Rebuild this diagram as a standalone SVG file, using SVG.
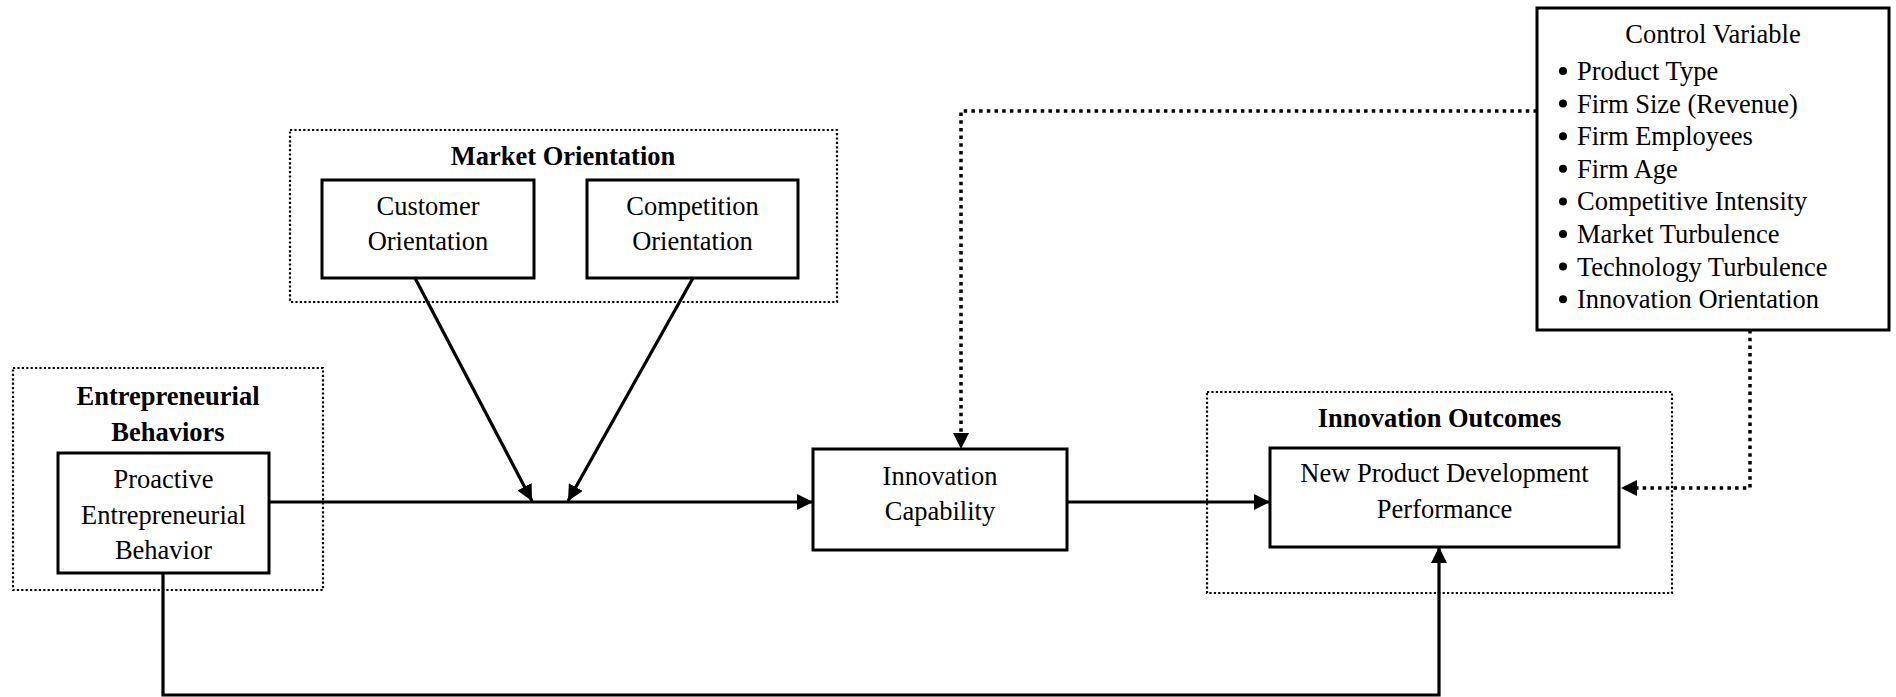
<svg xmlns="http://www.w3.org/2000/svg" width="1896" height="697" viewBox="0 0 1896 697">
<style>
text{font-family:'Liberation Serif','Times New Roman',serif;font-size:26.5px;fill:#000}
.c{text-anchor:middle}
.b{font-weight:bold}
.box{fill:#fff;stroke:#000;stroke-width:3}
.grp{fill:none;stroke:#000;stroke-width:2.2;stroke-dasharray:2.2 2.2}
.ln{fill:none;stroke:#000;stroke-width:3.2}
.dot{fill:none;stroke:#000;stroke-width:3.5;stroke-dasharray:3.5 4.2}
</style>
<defs>
<marker id="ah" viewBox="0 0 16 16" refX="16" refY="8" markerWidth="16" markerHeight="16" markerUnits="userSpaceOnUse" orient="auto">
<path d="M0,0 L16,8 L0,16 Z" fill="#000"/>
</marker>
</defs>
<g id="market-orientation">
<rect class="grp" x="290" y="130" width="547" height="172"/>
<text class="c b" x="563" y="165">Market Orientation</text>
</g>
<g id="customer-orientation">
<rect class="box" x="322" y="180" width="212" height="98"/>
<text class="c" x="428" y="215">Customer</text>
<text class="c" x="428" y="250">Orientation</text>
</g>
<g id="competition-orientation">
<rect class="box" x="587" y="180" width="211" height="98"/>
<text class="c" x="692.5" y="215">Competition</text>
<text class="c" x="692.5" y="250">Orientation</text>
</g>
<g id="entrepreneurial-behaviors">
<rect class="grp" x="13" y="368" width="310" height="222"/>
<text class="c b" x="168" y="405">Entrepreneurial</text>
<text class="c b" x="168" y="441">Behaviors</text>
</g>
<g id="proactive">
<rect class="box" x="58" y="453" width="211" height="120"/>
<text class="c" x="163.5" y="488">Proactive</text>
<text class="c" x="163.5" y="524">Entrepreneurial</text>
<text class="c" x="163.5" y="559">Behavior</text>
</g>
<g id="innovation-capability">
<rect class="box" x="813" y="449" width="254" height="101"/>
<text class="c" x="940" y="485">Innovation</text>
<text class="c" x="940" y="520">Capability</text>
</g>
<g id="innovation-outcomes">
<rect class="grp" x="1207" y="392" width="465" height="201"/>
<text class="c b" x="1439.5" y="427">Innovation Outcomes</text>
</g>
<g id="npd-performance">
<rect class="box" x="1270" y="448" width="349" height="99"/>
<text class="c" x="1444.5" y="482">New Product Development</text>
<text class="c" x="1444.5" y="518">Performance</text>
</g>
<g id="control-variable">
<rect class="box" x="1537" y="8" width="352" height="322"/>
<text class="c" x="1713" y="43">Control Variable</text>
<g>
<circle cx="1563" cy="71" r="4"/>
<circle cx="1563" cy="103.6" r="4"/>
<circle cx="1563" cy="136.2" r="4"/>
<circle cx="1563" cy="168.8" r="4"/>
<circle cx="1563" cy="201.4" r="4"/>
<circle cx="1563" cy="234" r="4"/>
<circle cx="1563" cy="266.6" r="4"/>
<circle cx="1563" cy="299.2" r="4"/>
</g>
<text x="1577" y="80">Product Type</text>
<text x="1577" y="112.6">Firm Size (Revenue)</text>
<text x="1577" y="145.2">Firm Employees</text>
<text x="1577" y="177.8">Firm Age</text>
<text x="1577" y="210.4">Competitive Intensity</text>
<text x="1577" y="243">Market Turbulence</text>
<text x="1577" y="275.6">Technology Turbulence</text>
<text x="1577" y="308.2">Innovation Orientation</text>
</g>
<g id="connectors">
<path class="ln" d="M269,502 H813" marker-end="url(#ah)"/>
<path class="ln" d="M415,278 L532,501" marker-end="url(#ah)"/>
<path class="ln" d="M693,278 L568,501" marker-end="url(#ah)"/>
<path class="ln" d="M1067,502 H1270" marker-end="url(#ah)"/>
<path class="ln" d="M163,573 V695 H1439 V547" marker-end="url(#ah)"/>
<path class="dot" d="M1537,111 H961 V435"/>
<path d="M953,433 L969,433 L961,449 Z" fill="#000"/>
<path class="dot" d="M1750,330 V488 H1636"/>
<path d="M1637,480 L1637,496 L1621,488 Z" fill="#000"/>
</g>
</svg>
